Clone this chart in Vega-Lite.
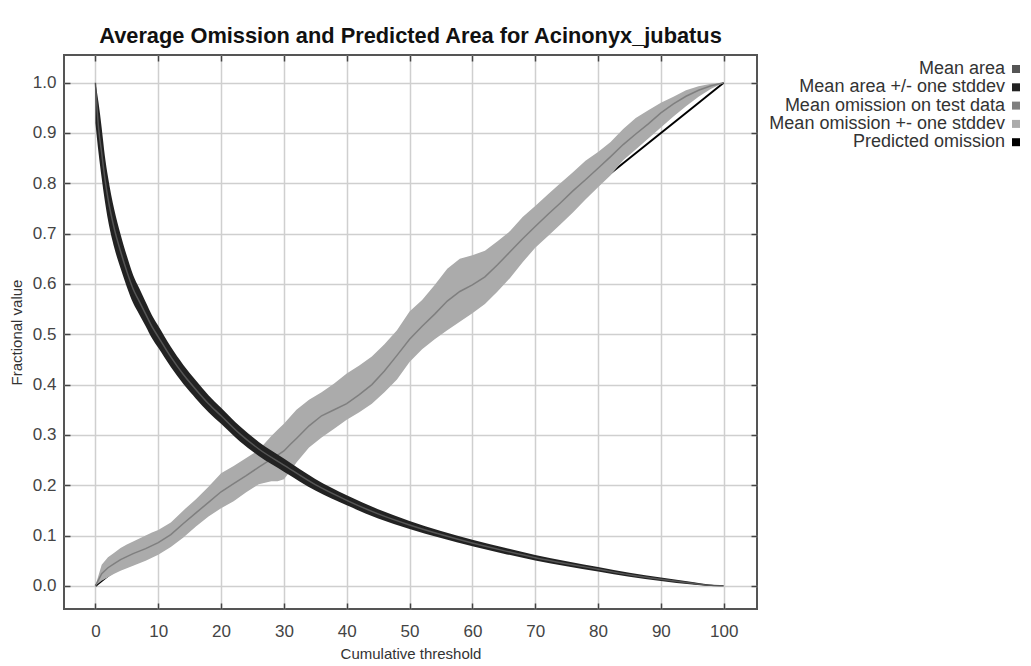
{
  "$schema": "https://vega.github.io/schema/vega-lite/v6.json",
  "autosize": "none",
  "width": 693,
  "height": 554,
  "padding": {"left": 64, "top": 55, "right": 274, "bottom": 57},
  "background": "white",
  "title": {"text": "Average Omission and Predicted Area for Acinonyx_jubatus", "font": "Liberation Sans", "fontSize": 21.8, "fontWeight": "bold", "color": "#111111", "anchor": "middle", "offset": 6},
  "config": {
    "view": {"stroke": "#555555", "strokeWidth": 2},
    "legend": {"orient": "none", "legendX": 943, "legendY": 5, "title": null, "symbolType": "square", "symbolSize": 64, "labelAlign": "right", "labelOffset": -20, "labelFont": "Liberation Sans", "labelFontSize": 18, "labelColor": "#333333", "rowPadding": 0.3, "labelLimit": 400, "symbolStrokeWidth": 0}
  },
  "datasets": {
    "pred": [{"x": 0, "y": 0}, {"x": 100, "y": 1}],
    "area": [
      {"x": 0, "m": 1.0, "lo": 0.92, "hi": 1.0},
      {"x": 0.5, "m": 0.91, "lo": 0.86, "hi": 0.96},
      {"x": 1, "m": 0.86, "lo": 0.81, "hi": 0.91},
      {"x": 1.5, "m": 0.81, "lo": 0.765, "hi": 0.855},
      {"x": 2, "m": 0.77, "lo": 0.727, "hi": 0.813},
      {"x": 3, "m": 0.71, "lo": 0.672, "hi": 0.748},
      {"x": 4, "m": 0.665, "lo": 0.631, "hi": 0.699},
      {"x": 5, "m": 0.625, "lo": 0.594, "hi": 0.656},
      {"x": 6, "m": 0.59, "lo": 0.562, "hi": 0.618},
      {"x": 7, "m": 0.565, "lo": 0.539, "hi": 0.591},
      {"x": 8, "m": 0.54, "lo": 0.516, "hi": 0.564},
      {"x": 9, "m": 0.515, "lo": 0.492, "hi": 0.538},
      {"x": 10, "m": 0.495, "lo": 0.473, "hi": 0.517},
      {"x": 12, "m": 0.455, "lo": 0.435, "hi": 0.475},
      {"x": 14, "m": 0.42, "lo": 0.401, "hi": 0.439},
      {"x": 16, "m": 0.39, "lo": 0.372, "hi": 0.408},
      {"x": 18, "m": 0.362, "lo": 0.345, "hi": 0.379},
      {"x": 20, "m": 0.338, "lo": 0.322, "hi": 0.354},
      {"x": 23, "m": 0.302, "lo": 0.287, "hi": 0.317},
      {"x": 26, "m": 0.272, "lo": 0.258, "hi": 0.286},
      {"x": 30, "m": 0.24, "lo": 0.227, "hi": 0.253},
      {"x": 35, "m": 0.201, "lo": 0.1895, "hi": 0.2125},
      {"x": 40, "m": 0.17, "lo": 0.16, "hi": 0.18},
      {"x": 45, "m": 0.143, "lo": 0.134, "hi": 0.152},
      {"x": 50, "m": 0.121, "lo": 0.113, "hi": 0.129},
      {"x": 55, "m": 0.102, "lo": 0.095, "hi": 0.109},
      {"x": 60, "m": 0.085, "lo": 0.0785, "hi": 0.0915},
      {"x": 65, "m": 0.07, "lo": 0.064, "hi": 0.076},
      {"x": 70, "m": 0.056, "lo": 0.0505, "hi": 0.0615},
      {"x": 75, "m": 0.044, "lo": 0.039, "hi": 0.049},
      {"x": 80, "m": 0.033, "lo": 0.0285, "hi": 0.0375},
      {"x": 85, "m": 0.022, "lo": 0.018, "hi": 0.026},
      {"x": 90, "m": 0.013, "lo": 0.0095, "hi": 0.0165},
      {"x": 95, "m": 0.005, "lo": 0.0025, "hi": 0.0075},
      {"x": 98, "m": 0.001, "lo": 0.0, "hi": 0.002},
      {"x": 100, "m": 0.0, "lo": 0.0, "hi": 0.0}
    ],
    "omission": [
      {"x": 0, "m": 0, "lo": 0, "hi": 0},
      {"x": 1, "m": 0.024, "lo": 0.01, "hi": 0.042},
      {"x": 2, "m": 0.036, "lo": 0.017, "hi": 0.057},
      {"x": 3, "m": 0.044, "lo": 0.024, "hi": 0.066},
      {"x": 4, "m": 0.052, "lo": 0.03, "hi": 0.075},
      {"x": 5, "m": 0.058, "lo": 0.035, "hi": 0.082},
      {"x": 6, "m": 0.064, "lo": 0.04, "hi": 0.088},
      {"x": 7, "m": 0.069, "lo": 0.045, "hi": 0.094},
      {"x": 8, "m": 0.074, "lo": 0.05, "hi": 0.1},
      {"x": 9, "m": 0.08, "lo": 0.056, "hi": 0.106},
      {"x": 10, "m": 0.086, "lo": 0.062, "hi": 0.111},
      {"x": 12, "m": 0.102, "lo": 0.077, "hi": 0.126},
      {"x": 14, "m": 0.124, "lo": 0.096, "hi": 0.15},
      {"x": 16, "m": 0.145, "lo": 0.118, "hi": 0.172},
      {"x": 18, "m": 0.166, "lo": 0.138, "hi": 0.197},
      {"x": 20, "m": 0.187, "lo": 0.154, "hi": 0.224},
      {"x": 22, "m": 0.203, "lo": 0.168, "hi": 0.238},
      {"x": 24, "m": 0.219, "lo": 0.186, "hi": 0.254},
      {"x": 26, "m": 0.236, "lo": 0.202, "hi": 0.27},
      {"x": 28, "m": 0.252, "lo": 0.208, "hi": 0.298},
      {"x": 29, "m": 0.26, "lo": 0.208, "hi": 0.31},
      {"x": 30, "m": 0.268, "lo": 0.212, "hi": 0.322},
      {"x": 31, "m": 0.281, "lo": 0.228, "hi": 0.336},
      {"x": 32, "m": 0.293, "lo": 0.245, "hi": 0.35},
      {"x": 34, "m": 0.318, "lo": 0.275, "hi": 0.37},
      {"x": 36, "m": 0.338, "lo": 0.295, "hi": 0.385},
      {"x": 38, "m": 0.35, "lo": 0.312, "hi": 0.402},
      {"x": 40, "m": 0.362, "lo": 0.33, "hi": 0.422},
      {"x": 42, "m": 0.38, "lo": 0.345, "hi": 0.438},
      {"x": 44, "m": 0.4, "lo": 0.362, "hi": 0.456},
      {"x": 46, "m": 0.427, "lo": 0.385, "hi": 0.48},
      {"x": 48, "m": 0.458, "lo": 0.41, "hi": 0.508},
      {"x": 50, "m": 0.49, "lo": 0.445, "hi": 0.545},
      {"x": 52, "m": 0.516, "lo": 0.47, "hi": 0.568},
      {"x": 54, "m": 0.54, "lo": 0.49, "hi": 0.598},
      {"x": 56, "m": 0.566, "lo": 0.508, "hi": 0.63},
      {"x": 58, "m": 0.585, "lo": 0.525, "hi": 0.65},
      {"x": 60, "m": 0.598, "lo": 0.542, "hi": 0.657},
      {"x": 62, "m": 0.614, "lo": 0.56, "hi": 0.666},
      {"x": 64, "m": 0.638, "lo": 0.585, "hi": 0.685},
      {"x": 66, "m": 0.664, "lo": 0.612, "hi": 0.705},
      {"x": 68, "m": 0.69, "lo": 0.643, "hi": 0.733},
      {"x": 70, "m": 0.714, "lo": 0.672, "hi": 0.755},
      {"x": 72, "m": 0.738, "lo": 0.695, "hi": 0.778},
      {"x": 74, "m": 0.761, "lo": 0.718, "hi": 0.8},
      {"x": 76, "m": 0.785, "lo": 0.742, "hi": 0.822},
      {"x": 78, "m": 0.807, "lo": 0.768, "hi": 0.845},
      {"x": 80, "m": 0.83, "lo": 0.792, "hi": 0.862},
      {"x": 82, "m": 0.853, "lo": 0.816, "hi": 0.882},
      {"x": 84, "m": 0.877, "lo": 0.846, "hi": 0.908},
      {"x": 86, "m": 0.898, "lo": 0.867, "hi": 0.93},
      {"x": 88, "m": 0.918, "lo": 0.889, "hi": 0.945},
      {"x": 90, "m": 0.94, "lo": 0.911, "hi": 0.96},
      {"x": 92, "m": 0.958, "lo": 0.933, "hi": 0.972},
      {"x": 94, "m": 0.973, "lo": 0.953, "hi": 0.985},
      {"x": 96, "m": 0.985, "lo": 0.972, "hi": 0.993},
      {"x": 98, "m": 0.994, "lo": 0.988, "hi": 0.998},
      {"x": 100, "m": 1.0, "lo": 1.0, "hi": 1.0}
    ]
  },
  "resolve": {"axis": {"x": "independent", "y": "independent"}},
  "layer": [
    {
      "data": {"name": "pred"},
      "mark": {"type": "line", "strokeWidth": 2, "clip": true},
      "encoding": {
        "x": {"field": "x", "type": "quantitative", "scale": {"domain": [-5, 105.3], "nice": false, "zero": false},
          "axis": {"orient": "bottom", "values": [0,10,20,30,40,50,60,70,80,90,100], "title": "Cumulative threshold", "grid": true, "gridColor": "#cfcfcf", "gridWidth": 1.5, "domain": false, "tickSize": -6, "tickColor": "#444444", "tickWidth": 1.5, "labelPadding": 20, "labelFont": "Liberation Sans", "labelFontSize": 17, "labelColor": "#444444", "labelFlush": false, "titleFont": "Liberation Sans", "titleFontSize": 15, "titleFontWeight": "normal", "titleColor": "#333333", "titlePadding": 7}},
        "y": {"field": "y", "type": "quantitative", "scale": {"domain": [-0.046, 1.055], "nice": false, "zero": false},
          "axis": {"orient": "left", "values": [0,0.1,0.2,0.3,0.4,0.5,0.6,0.7,0.8,0.9,1.0], "format": ".1f", "title": "Fractional value", "grid": true, "gridColor": "#cfcfcf", "gridWidth": 1.5, "domain": false, "tickSize": -6, "tickColor": "#444444", "tickWidth": 1.5, "labelPadding": 14, "labelFont": "Liberation Sans", "labelFontSize": 17, "labelColor": "#444444", "labelFlush": false, "titleFont": "Liberation Sans", "titleFontSize": 15, "titleFontWeight": "normal", "titleColor": "#333333", "titlePadding": 8}},
        "color": {"datum": "Predicted omission", "type": "nominal",
          "scale": {"domain": ["Mean area", "Mean area +/- one stddev", "Mean omission on test data", "Mean omission +- one stddev", "Predicted omission"], "range": ["#555555", "#222222", "#7f7f7f", "#ababab", "#000000"]},
          "legend": {"encode": {"symbols": {"update": {"fill": {"scale": "color", "field": "value"}, "stroke": {"value": "transparent"}}}}}}
      }
    },
    {
      "data": {"name": "omission"},
      "mark": {"type": "area", "opacity": 1},
      "encoding": {
        "x": {"field": "x", "type": "quantitative", "axis": null},
        "y": {"field": "lo", "type": "quantitative", "axis": null},
        "y2": {"field": "hi"},
        "color": {"datum": "Mean omission +- one stddev", "type": "nominal"}
      }
    },
    {
      "data": {"name": "omission"},
      "mark": {"type": "line", "strokeWidth": 1.5},
      "encoding": {
        "x": {"field": "x", "type": "quantitative", "axis": null},
        "y": {"field": "m", "type": "quantitative", "axis": null},
        "color": {"datum": "Mean omission on test data", "type": "nominal"}
      }
    },
    {
      "data": {"name": "area"},
      "mark": {"type": "area", "opacity": 1, "interpolate": "monotone"},
      "encoding": {
        "x": {"field": "x", "type": "quantitative", "axis": null},
        "y": {"field": "lo", "type": "quantitative", "axis": null},
        "y2": {"field": "hi"},
        "color": {"datum": "Mean area +/- one stddev", "type": "nominal"}
      }
    },
    {
      "data": {"name": "area"},
      "mark": {"type": "line", "strokeWidth": 1.5, "interpolate": "monotone"},
      "encoding": {
        "x": {"field": "x", "type": "quantitative",
          "axis": {"orient": "top", "values": [0,10,20,30,40,50,60,70,80,90,100], "labels": false, "title": null, "grid": false, "domain": false, "tickSize": -6, "tickColor": "#444444", "tickWidth": 1.5}},
        "y": {"field": "m", "type": "quantitative",
          "axis": {"orient": "right", "values": [0,0.1,0.2,0.3,0.4,0.5,0.6,0.7,0.8,0.9,1.0], "labels": false, "title": null, "grid": false, "domain": false, "tickSize": -6, "tickColor": "#444444", "tickWidth": 1.5}},
        "color": {"datum": "Mean area", "type": "nominal"}
      }
    }
  ]
}
